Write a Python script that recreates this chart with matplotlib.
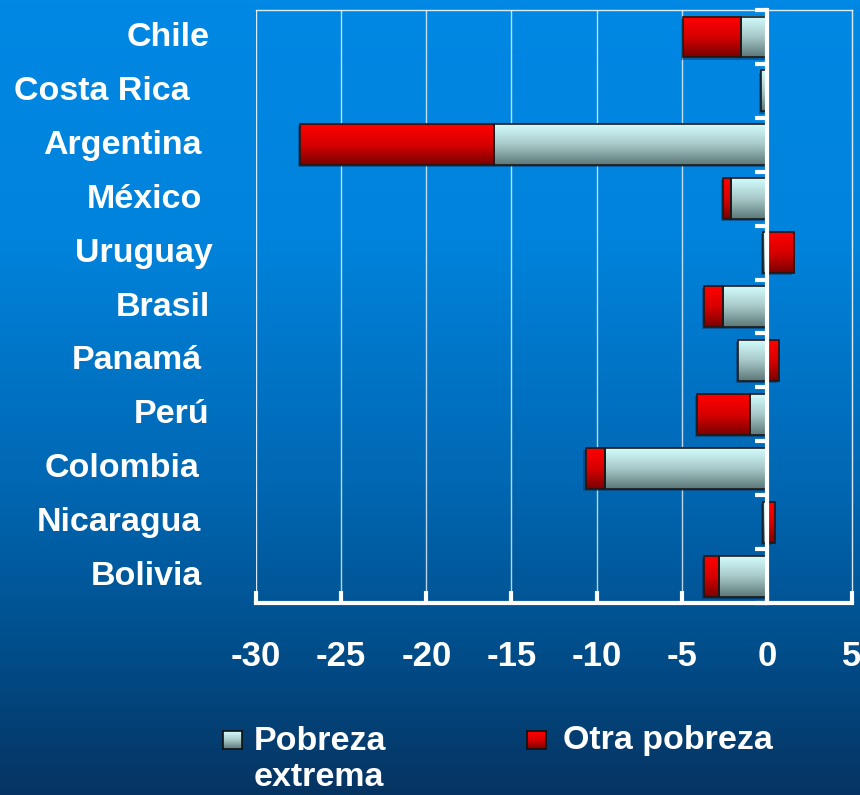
import numpy as np
import matplotlib
matplotlib.use("Agg")
import matplotlib.pyplot as plt
from matplotlib.colors import LinearSegmentedColormap

plt.rcParams['font.family'] = ['Liberation Sans', 'DejaVu Sans']
plt.rcParams['font.weight'] = 'bold'

# data
countries = ['Chile', 'Costa Rica', 'Argentina', 'México', 'Uruguay', 'Brasil',
             'Panamá', 'Perú', 'Colombia', 'Nicaragua', 'Bolivia']
extrema = [-1.5, -0.35, -16.0, -2.1, -0.2, -2.6, -1.7, -1.0, -9.5, -0.2, -2.8]
otra = [-3.4, 0.0, -11.4, -0.45, 1.6, -1.1, 0.7, -3.1, -1.15, 0.45, -0.9]
xticks = [-30, -25, -20, -15, -10, -5, 0, 5]

# right edge (px) of each country label in the original slide
label_right_px = [210, 190, 202, 202, 213, 210, 202, 209, 199, 201, 202]

W, H = 860, 795
fig = plt.figure(figsize=(W / 100, H / 100), dpi=100)

# background gradient
bg = fig.add_axes([0, 0, 1, 1], zorder=-10)
bg_cmap = LinearSegmentedColormap.from_list(
    'bg', [(0, '#0088e4'), (0.3, '#0083dc'), (0.6, '#0068b4'),
           (0.8, '#00508e'), (1.0, '#063462')])
bg.imshow(np.linspace(0, 1, 256).reshape(-1, 1), aspect='auto', cmap=bg_cmap,
          extent=[0, 1, 0, 1])
bg.axis('off')

x0, x1 = 256 / W, 852 / W
y_top, y_bot = 1 - 9.5 / H, 1 - 603 / H
ax = fig.add_axes([x0, y_bot, x1 - x0, y_top - y_bot])
ax.patch.set_alpha(0)

y = np.arange(len(countries))
ext = np.array(extrema)
oth = np.array(otra)
# Excel-style stacking: same-sign segments stack, opposite sign starts at 0
left_oth = np.where(np.sign(oth) == np.sign(ext), ext, 0)

bh = 0.76
b1 = ax.barh(y, ext, height=bh, facecolor='none', edgecolor='#1a1a1a', lw=1.2, zorder=4)
b2 = ax.barh(y, oth, left=left_oth, height=bh, facecolor='none', edgecolor='#1a1a1a',
             lw=1.2, zorder=4)

cm_ext = LinearSegmentedColormap.from_list('ext', ['#d2fcfc', '#a8c8c8', '#5c7878'])
cm_red = LinearSegmentedColormap.from_list('red', ['#ff0000', '#d80000', '#7a0000'])
grad = np.linspace(0, 1, 64).reshape(-1, 1)
for bars, cm in ((b1, cm_ext), (b2, cm_red)):
    for p in bars:
        w = p.get_width()
        if abs(w) < 1e-9:
            continue
        bx, by, bhgt = p.get_x(), p.get_y(), p.get_height()
        # small drop shadow
        ax.add_patch(plt.Rectangle((bx - 0.12, by + 0.04), w, bhgt,
                                   color='#0a2a50', alpha=0.45, zorder=2, lw=0))
        ax.imshow(grad, cmap=cm, aspect='auto', zorder=3,
                  extent=[bx, bx + w, by + bhgt, by])

ax.set_xlim(-30, 5)
ax.set_ylim(len(countries) - 0.52, -0.51)

# grid and frame
for xv in xticks[1:-2]:
    ax.axvline(xv, color='white', lw=1, alpha=0.75, zorder=1)
for s in ('top', 'right'):
    ax.spines[s].set_color('white')
    ax.spines[s].set_linewidth(1)
    ax.spines[s].set_alpha(0.85)
ax.axvline(-30, color='white', lw=1, alpha=0.85, zorder=1)
ax.spines['bottom'].set_color('white')
ax.spines['bottom'].set_linewidth(3)
ax.spines['left'].set_position(('data', 0))
ax.spines['left'].set_color('white')
ax.spines['left'].set_linewidth(3)
ax.spines['left'].set_zorder(5)

ax.set_xticks(xticks)
ax.set_xticklabels([str(v) for v in xticks])
ax.tick_params(axis='x', direction='in', length=9, width=3, color='white',
               labelcolor='white', labelsize=25, pad=27)
ax.set_yticks([])
ax.set_yticks(np.arange(len(countries) + 1) - 0.5, minor=True)
ax.tick_params(axis='y', which='minor', direction='out', length=9, width=3,
               color='white', labelleft=False)

# country labels
for yi, name, rpx in zip(y, countries, label_right_px):
    ax.text((rpx - 256) / (852 - 256), yi + 0.01, name, transform=ax.get_yaxis_transform(),
            ha='right', va='center', color='white', fontsize=24.5, fontweight='bold')

# legend (manual, to match the two-line label)
lg1 = fig.add_axes([223 / W, 1 - 749 / H, 19 / W, 18 / H])
lg1.imshow(grad, cmap=cm_ext, aspect='auto')
lg2 = fig.add_axes([527 / W, 1 - 749 / H, 19 / W, 18 / H])
lg2.imshow(grad, cmap=cm_red, aspect='auto')
for a in (lg1, lg2):
    a.set_xticks([])
    a.set_yticks([])
    for s in a.spines.values():
        s.set_color('#111111')
        s.set_linewidth(1.2)

fig.text(254 / W, 1 - 742 / H, 'Pobreza', color='white', fontsize=24.5,
         fontweight='bold', ha='left', va='center')
fig.text(254 / W, 1 - 778 / H, 'extrema', color='white', fontsize=24.5,
         fontweight='bold', ha='left', va='center')
fig.text(563 / W, 1 - 741 / H, 'Otra pobreza', color='white', fontsize=24.5,
         fontweight='bold', ha='left', va='center')

fig.savefig('out.png', dpi=100)
